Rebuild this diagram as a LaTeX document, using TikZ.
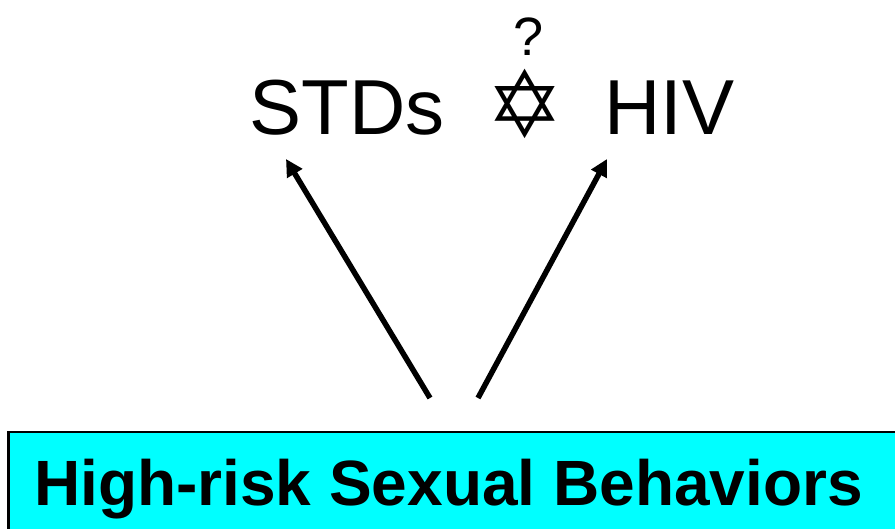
\documentclass[tikz,border=0pt]{standalone}
\usepackage{fontspec}
\setmainfont{Liberation Sans}
\newfontfamily\symfont{DejaVu Sans}[BoldFont={DejaVu Sans Bold}]
\usetikzlibrary{arrows.meta}
\definecolor{boxcyan}{RGB}{0,255,255}
\tikzset{
  lbl/.style={inner sep=0pt, anchor=base west},
  arr/.style={line width=5.5pt, -{Triangle[length=17pt,width=17pt]}}
}
\begin{document}
\begin{tikzpicture}[x=1pt,y=-1pt]
\useasboundingbox (0,0) rectangle (895,528);
\begin{scope}
\clip (0,0) rectangle (895,528);
\draw[line width=2.5pt, fill=boxcyan] (8.5,432) rectangle (910,540);
\end{scope}
\node[lbl] (beh) at (34,505) {\fontsize{64}{66}\selectfont\bfseries High-risk Sexual Behaviors};
\node[lbl] (std) at (249.5,134) {\fontsize{78}{80}\selectfont STDs};
\node[lbl] (hiv) at (604,134) {\fontsize{78}{80}\selectfont HIV};
\node[inner sep=0pt] (star) at (525,104) {\symfont\bfseries\fontsize{92}{94}\selectfont ✡};
\node[inner sep=0pt, anchor=base] (q) at (529,55) {\fontsize{54}{56}\selectfont ?};
\coordinate (l0) at (430,398);
\coordinate (l1) at (286,159);
\coordinate (r0) at (478,398);
\coordinate (r1) at (607,159);
\draw[arr] (l0) -- (l1);
\draw[arr] (r0) -- (r1);
\end{tikzpicture}
\end{document}
